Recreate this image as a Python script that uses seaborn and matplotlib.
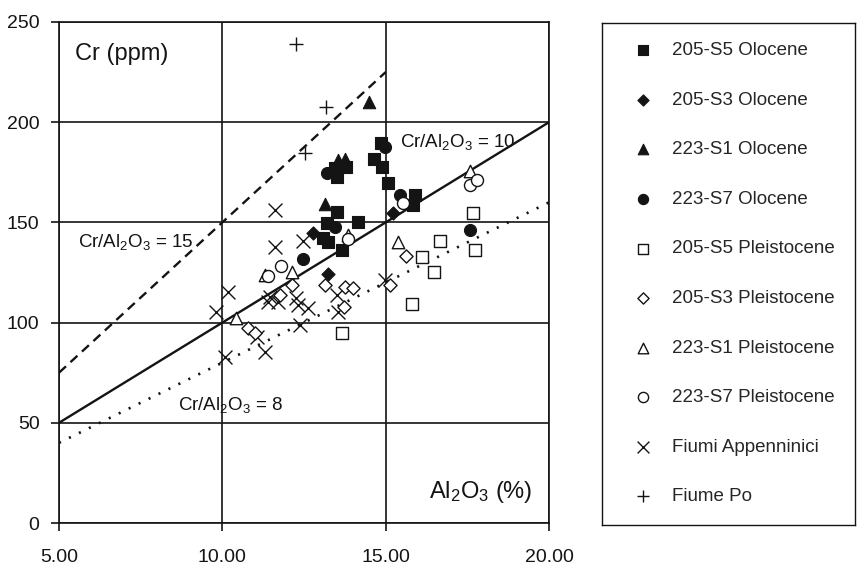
import matplotlib
matplotlib.use("Agg")
import matplotlib.pyplot as plt
import seaborn as sns

# valori: Al2O3 (%) e Cr (ppm)
s5_olo_x = [14.86, 14.65, 14.90, 15.06, 15.90, 15.84, 13.45, 13.80, 13.50, 13.50, 13.19, 14.16, 13.09, 13.24, 13.65]
s5_olo_y = [189.5, 181.6, 177.5, 169.8, 163.7, 158.5, 177.3, 177.5, 172.7, 155.3, 149.6, 150.4, 142.0, 140.4, 136.2]

s3_olo_x = [12.78, 15.23, 13.24]
s3_olo_y = [144.5, 154.5, 124.5]

s1_olo_x = [14.48, 13.55, 13.75, 13.14]
s1_olo_y = [210.3, 181.1, 181.6, 159.2]

s7_olo_x = [13.19, 14.98, 15.44, 13.45, 12.46, 17.58]
s7_olo_y = [174.5, 187.8, 163.7, 147.8, 131.6, 146.2]

s5_ple_x = [17.68, 17.73, 16.66, 16.10, 16.47, 15.82, 13.65]
s5_ple_y = [154.5, 136.2, 140.9, 132.5, 125.4, 109.1, 94.7]

s3_ple_x = [15.62, 15.13, 13.14, 13.75, 14.01, 13.72, 12.12, 11.76, 10.79, 11.00]
s3_ple_y = [133.2, 118.8, 118.8, 117.9, 117.1, 107.6, 118.8, 113.8, 97.2, 94.7]

s1_ple_x = [17.58, 15.38, 13.86, 12.12, 11.31, 10.43]
s1_ple_y = [175.4, 140.4, 143.5, 125.4, 124.0, 102.2]

s7_ple_x = [17.58, 17.80, 15.54, 13.86, 11.81, 11.40]
s7_ple_y = [168.7, 171.0, 159.5, 141.5, 128.0, 123.3]

appen_x = [11.61, 11.61, 12.48, 10.18, 9.82, 10.08, 11.46, 11.71, 11.40, 12.27,
           12.33, 12.63, 12.38, 13.55, 13.50, 11.31, 11.05, 14.98]
appen_y = [156.2, 137.9, 140.8, 115.4, 105.4, 83.0, 113.0, 110.4, 110.4, 112.1,
           108.8, 107.1, 99.0, 105.4, 113.8, 85.5, 93.0, 121.3]

po_x = [12.27, 13.17, 12.53]
po_y = [239.0, 207.4, 184.6]

# rette Cr/Al2O3 = costante (estremi in Al2O3)
ratio_15_x = [5, 15]
ratio_10_x = [5, 20]
ratio_8_x = [5, 20]

x_ticks = [5, 10, 15, 20]
x_tick_labels = ["5.00", "10.00", "15.00", "20.00"]
y_ticks = [0, 50, 100, 150, 200, 250]
y_tick_labels = ["0", "50", "100", "150", "200", "250"]

series = [
    ("205-S5 Olocene", s5_olo_x, s5_olo_y, "s", True, 75),
    ("205-S3 Olocene", s3_olo_x, s3_olo_y, "D", True, 45),
    ("223-S1 Olocene", s1_olo_x, s1_olo_y, "^", True, 80),
    ("223-S7 Olocene", s7_olo_x, s7_olo_y, "o", True, 75),
    ("205-S5 Pleistocene", s5_ple_x, s5_ple_y, "s", False, 75),
    ("205-S3 Pleistocene", s3_ple_x, s3_ple_y, "D", False, 45),
    ("223-S1 Pleistocene", s1_ple_x, s1_ple_y, "^", False, 80),
    ("223-S7 Pleistocene", s7_ple_x, s7_ple_y, "o", False, 75),
    ("Fiumi Appenninici", appen_x, appen_y, "x", None, 100),
    ("Fiume Po", po_x, po_y, "+", None, 110),
]

sns.set_style("ticks")
plt.rcParams["font.family"] = ["Liberation Sans", "DejaVu Sans"]
plt.rcParams["mathtext.fontset"] = "custom"
plt.rcParams["mathtext.rm"] = "Liberation Sans"
plt.rcParams["mathtext.default"] = "regular"

ink = "#141414"
fig = plt.figure(figsize=(8.58, 5.66), dpi=100)
ax = fig.add_axes([59 / 858, 43 / 566, 490 / 858, 501 / 566])

# linee di riferimento
sns.lineplot(x=ratio_15_x, y=[15 * v for v in ratio_15_x], ax=ax, color=ink,
             linewidth=1.7, linestyle=(0, (4, 2.6)), zorder=2)
sns.lineplot(x=ratio_10_x, y=[10 * v for v in ratio_10_x], ax=ax, color=ink,
             linewidth=1.7, zorder=2)
sns.lineplot(x=ratio_8_x, y=[8 * v for v in ratio_8_x], ax=ax, color=ink,
             linewidth=1.9, linestyle=(0, (0.8, 3.4)), zorder=2)

for label, xs, ys, mk, filled, size in series:
    if filled is None:
        sns.scatterplot(x=xs, y=ys, ax=ax, marker=mk, s=size, color=ink,
                        linewidth=1.0, label=label, zorder=3)
    elif filled:
        sns.scatterplot(x=xs, y=ys, ax=ax, marker=mk, s=size, color=ink,
                        edgecolor=ink, linewidth=0.8, label=label, zorder=3)
    else:
        sns.scatterplot(x=xs, y=ys, ax=ax, marker=mk, s=size, facecolor="white",
                        edgecolor=ink, linewidth=1.0, label=label, zorder=4)

ax.set_xlim(5, 20)
ax.set_ylim(0, 250)
ax.set_xticks(x_ticks)
ax.set_xticklabels(x_tick_labels)
ax.set_yticks(y_ticks)
ax.set_yticklabels(y_tick_labels)
ax.tick_params(axis="both", direction="out", length=6, width=1.2, colors=ink, labelsize=14)
ax.tick_params(axis="x", pad=13)
ax.tick_params(axis="y", pad=8)
ax.grid(True, color=ink, linewidth=1.2, zorder=1)
ax.set_axisbelow(True)
for sp in ax.spines.values():
    sp.set_visible(True)
    sp.set_color(ink)
    sp.set_linewidth(1.2)
ax.set_xlabel("")
ax.set_ylabel("")

ax.text(5.49, 234, "Cr (ppm)", fontsize=17, va="center", ha="left", color=ink)
ax.text(19.5, 15.5, "Al$_2$O$_3$ (%)", fontsize=17, va="center", ha="right", color=ink)
ax.text(5.58, 140, "Cr/Al$_2$O$_3$ = 15", fontsize=13.5, va="center", ha="left", color=ink)
ax.text(15.44, 190, "Cr/Al$_2$O$_3$ = 10", fontsize=13.5, va="center", ha="left", color=ink)
ax.text(8.64, 59, "Cr/Al$_2$O$_3$ = 8", fontsize=13.5, va="center", ha="left", color=ink)

handles, labels = ax.get_legend_handles_labels()
ax.get_legend().remove()

# riquadro della legenda a destra
ax_leg = fig.add_axes([602 / 858, 41 / 566, 253 / 858, 502 / 566])
ax_leg.set_xticks([])
ax_leg.set_yticks([])
for sp in ax_leg.spines.values():
    sp.set_color(ink)
    sp.set_linewidth(1.0)
ax_leg.legend(handles, labels, loc="upper left", bbox_to_anchor=(0.125, 0.962),
              frameon=False, fontsize=13.5, borderpad=0, borderaxespad=0,
              handlelength=1.0, handletextpad=1.05, labelspacing=1.73,
              markerscale=0.85)

fig.savefig("out.png", dpi=100)
